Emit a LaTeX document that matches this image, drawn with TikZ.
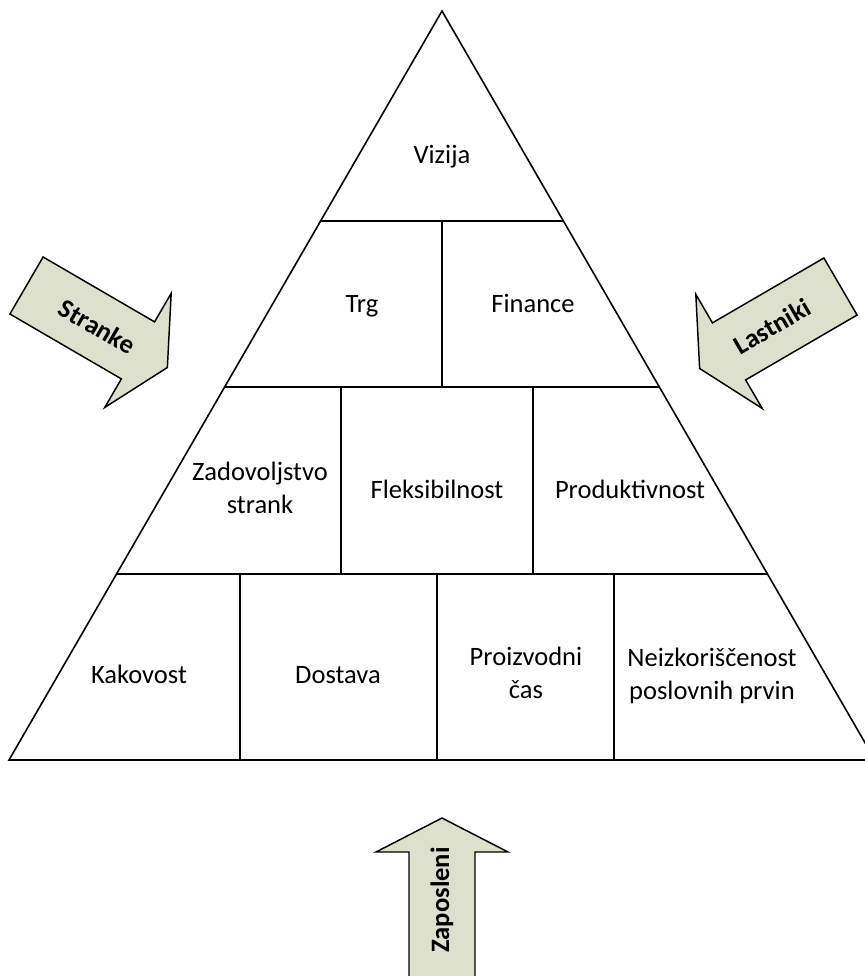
\documentclass[tikz,border=0pt]{standalone}
\usepackage{fontspec}
\setmainfont{Carlito}
\usetikzlibrary{calc}
\definecolor{arrowfill}{RGB}{221,224,204}
\begin{document}
\begin{tikzpicture}[x=0.75pt,y=-0.75pt,
  edge/.style={line width=1.2pt, line join=miter},
  lbl/.style={font=\fontsize{19.9}{24.3}\selectfont, align=center, inner sep=0pt},
  blockarrow/.style={draw, line width=1.1pt, fill=arrowfill, line join=miter},
  arrowlbl/.style={font=\fontsize{19.9}{24.3}\selectfont\bfseries, inner sep=0pt}]
\useasboundingbox (0,0) rectangle (865,976);
\clip (0,0) rectangle (865,976);

% pyramid outline
\coordinate (apex) at (442,11);
\coordinate (bl) at (9,760);
\coordinate (br) at (875,760);
\draw[edge] (apex) -- (bl) -- (br) -- cycle;

% horizontal tier boundaries, cut at the pyramid sides
\foreach \n/\yy in {a/221,b/387,c/574}{
  \coordinate (\n L) at ($(apex)!{(\yy-11)/749}!(bl)$);
  \coordinate (\n R) at ($(apex)!{(\yy-11)/749}!(br)$);
  \draw[edge] (\n L) -- (\n R);
}

% vertical dividers inside the tiers
\draw[edge] (442,221) -- (442,387);
\draw[edge] (341,387) -- (341,574);
\draw[edge] (533,387) -- (533,574);
\draw[edge] (240,574) -- (240,760);
\draw[edge] (437,574) -- (437,760);
\draw[edge] (614,574) -- (614,760);

% labels of the pyramid cells
\node[lbl, anchor=base] (vizija) at (442,163) {Vizija};
\node[lbl, anchor=base] (trg) at (362,312) {Trg};
\node[lbl, anchor=base] (finance) at (533,312) {Finance};
\node[lbl] (zadovoljstvo) at (260,488) {Zadovoljstvo\\strank};
\node[lbl, anchor=base] (fleksibilnost) at (437,498) {Fleksibilnost};
\node[lbl, anchor=base] (produktivnost) at (630,498) {Produktivnost};
\node[lbl, anchor=base] (kakovost) at (139,683) {Kakovost};
\node[lbl, anchor=base] (dostava) at (338,683) {Dostava};
\node[lbl] (proizvodni) at (526,673) {Proizvodni\\čas};
\node[lbl] (neizkoriscenost) at (712,676) {Neizkoriščenost\\poslovnih prvin};

% block arrows: shaft 129 long, 66 wide; head 34 long, 132 wide
\def\blockarrowpath{(0,-33) -- (129,-33) -- (129,-66) -- (163,0) -- (129,66) -- (129,33) -- (0,33) -- cycle}

\begin{scope}[shift={(26.5,285.5)}, rotate=-30.2]
  \draw[blockarrow] \blockarrowpath;
  \node[arrowlbl, rotate=-30.2] (stranke) at (82,0) {Stranke};
\end{scope}

\begin{scope}[shift={(840.5,286.5)}, rotate=210.2]
  \draw[blockarrow] \blockarrowpath;
  \node[arrowlbl, rotate=30.2] (lastniki) at (79,0) {Lastniki};
\end{scope}

\begin{scope}[shift={(442,981)}, rotate=90]
  \draw[blockarrow] \blockarrowpath;
  \node[arrowlbl, rotate=90] (zaposleni) at (81,0) {Zaposleni};
\end{scope}
\end{tikzpicture}
\end{document}
